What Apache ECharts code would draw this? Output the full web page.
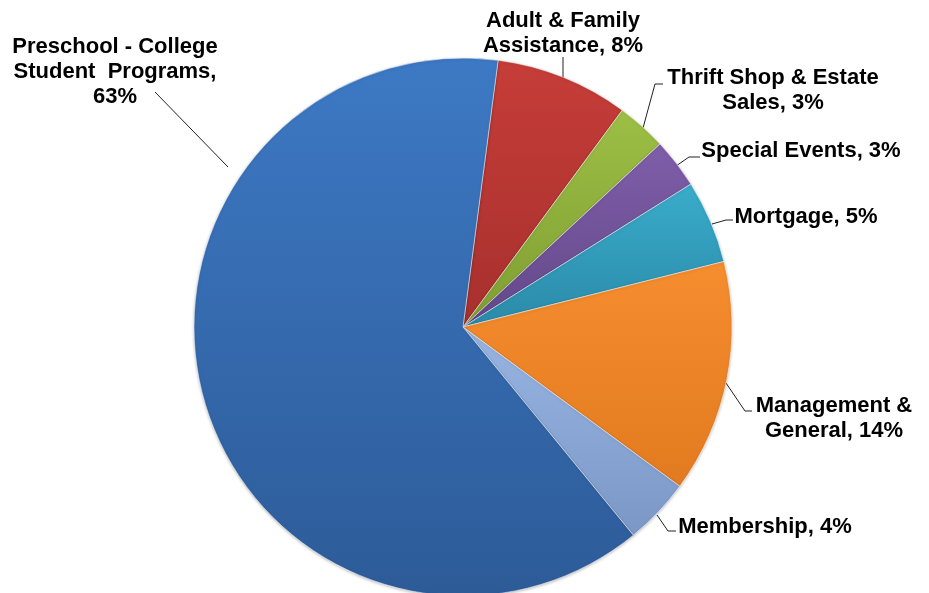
<!DOCTYPE html>
<html>
<head>
<meta charset="utf-8">
<script src="https://cdn.jsdelivr.net/npm/echarts@6/dist/echarts.min.js"></script>
<style>
html,body{margin:0;padding:0;background:#fff;}
#chart{width:929px;height:593px;}
</style>
</head>
<body>
<div id="chart"></div>
<script>
// Data (clockwise from top)
var categories = [
  'Adult & Family\nAssistance',
  'Thrift Shop & Estate\nSales',
  'Special Events',
  'Mortgage',
  'Management &\nGeneral',
  'Membership',
  'Preschool - College\nStudent  Programs'
];
var values = [8, 3, 3, 5, 14, 4, 63];

// Styling
var colorTop    = ['#c63d39', '#9dbf45', '#7f5ea9', '#3aaccb', '#f68d2f', '#98b5e2', '#3d79c4'];
var colorBottom = ['#a7302d', '#7f9d33', '#634889', '#2a8aa8', '#e27a1f', '#7b97c6', '#2d5b98'];

// Label layout (label centre and leader line points)
var labelPos = [
  {x: 563, y: 33,  line: [[563, 80], [563, 57]]},
  {x: 773, y: 90,  line: [[643, 128], [655, 84], [663, 84]]},
  {x: 801, y: 151, line: [[676, 166], [689, 157], [700, 157]]},
  {x: 806, y: 217, line: [[712, 224], [726, 220], [733, 220]]},
  {x: 834, y: 418, line: [[726, 383], [745, 411], [752, 411]]},
  {x: 765, y: 527, line: [[657, 515], [668, 531], [676, 531]]},
  {x: 115, y: 72,  line: [[228, 167], [155, 92]]}
];
var valueOnNewLine = [false, false, false, false, false, false, true];

var chart = echarts.init(document.getElementById('chart'));

var seriesData = categories.map(function (name, i) {
  return {
    name: name,
    value: values[i],
    itemStyle: {
      color: new echarts.graphic.LinearGradient(0, 0, 0, 1, [
        {offset: 0, color: colorTop[i]},
        {offset: 1, color: colorBottom[i]}
      ])
    }
  };
});

chart.setOption({
  backgroundColor: '#ffffff',
  animation: false,
  series: [{
    type: 'pie',
    center: [463, 327],
    radius: 269,
    startAngle: 82.5,
    clockwise: true,
    data: seriesData,
    itemStyle: {
      borderColor: 'rgba(255,255,255,0.5)',
      borderWidth: 1,
      shadowColor: 'rgba(0,0,0,0.25)',
      shadowBlur: 3,
      shadowOffsetY: 1
    },
    label: {
      show: true,
      position: 'outside',
      color: '#000',
      fontFamily: 'Liberation Sans, Arial, sans-serif',
      fontWeight: 'bold',
      fontSize: 22,
      lineHeight: 25,
      align: 'center',
      overflow: 'none',
      width: 400,
      formatter: function (p) {
        return p.name + ',' + (valueOnNewLine[p.dataIndex] ? '\n' : ' ') + p.value + '%';
      }
    },
    labelLine: {
      show: true,
      lineStyle: {color: '#222', width: 1}
    },
    labelLayout: function (params) {
      var lp = labelPos[params.dataIndex];
      return {
        x: lp.x,
        y: lp.y,
        align: 'center',
        verticalAlign: 'middle',
        labelLinePoints: lp.line
      };
    }
  }]
});
</script>
</body>
</html>
